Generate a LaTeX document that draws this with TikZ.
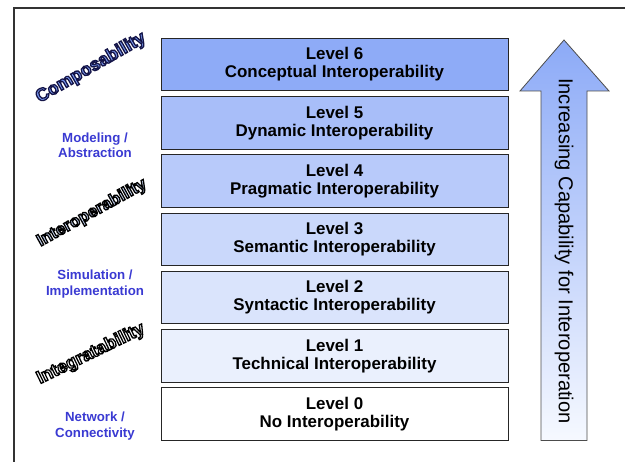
\documentclass[tikz,border=0pt]{standalone}
\usepackage{fontspec}
\setmainfont{Liberation Sans}

\definecolor{levelsix}{RGB}{142,171,247}
\definecolor{levelfive}{RGB}{168,190,249}
\definecolor{levelfour}{RGB}{184,202,250}
\definecolor{levelthree}{RGB}{202,216,251}
\definecolor{leveltwo}{RGB}{218,228,252}
\definecolor{levelone}{RGB}{234,240,253}
\definecolor{arrowtop}{RGB}{140,170,247}
\definecolor{arrowbottom}{RGB}{246,249,255}
\definecolor{bluelabel}{RGB}{58,58,210}
\definecolor{compfill}{RGB}{120,152,240}
\definecolor{interfill}{RGB}{204,218,250}

% filled text with a stroked outline (stroke colour as r g b)
\newcommand{\outlined}[3]{{\color{#1}\special{pdf:literal direct q #2 RG 2 Tr 1.3 w}#3\special{pdf:literal direct Q}}}

\begin{document}
\begin{tikzpicture}[x=1bp,y=-1bp]

        \useasboundingbox (0,0) rectangle (625,462);

        % frame
        \draw[line width=1.5bp, black!80] (14,462) -- (14,8) -- (625,8);

        \begin{scope}[every node/.style={draw=black!85, line width=0.9bp, minimum width=347bp,
            minimum height=52.5bp, inner sep=0pt, align=center,
            font=\bfseries\fontsize{17}{18.3}\selectfont}]
          \node[fill=levelsix]   (6) at (334.5,64.5)  {Level 6\\Conceptual Interoperability};
          \node[fill=levelfive]  (5) at (334.5,122.75) {Level 5\\Dynamic Interoperability};
          \node[fill=levelfour]  (4) at (334.5,181)   {Level 4\\Pragmatic Interoperability};
          \node[fill=levelthree] (3) at (334.5,239.25) {Level 3\\Semantic Interoperability};
          \node[fill=leveltwo]   (2) at (334.5,297.5) {Level 2\\Syntactic Interoperability};
          \node[fill=levelone]   (1) at (334.5,355.75) {Level 1\\Technical Interoperability};
          \node[fill=white]      (0) at (334.5,414)   {Level 0\\No Interoperability};
        \end{scope}

        % capability arrow
        \shade[top color=arrowtop, bottom color=arrowbottom, draw=black!70, line width=0.8bp]
          (564,40) -- (609,91) -- (587,91) -- (587,440.5) -- (541,440.5) -- (541,91) -- (520,91) -- cycle;
        \node[rotate=-90, font=\fontsize{20.2}{24}\selectfont] (capability) at (564,251)
          {Increasing Capability for Interoperation};

        \begin{scope}[every node/.style={text=bluelabel, align=center,
            font=\bfseries\fontsize{13.3}{15.5}\selectfont}]
          \node (model)   at (95,145) {Modeling /\\Abstraction};
          \node (simul)   at (95,284) {Simulation /\\Implementation};
          \node (network) at (95,426) {Network /\\Connectivity};
        \end{scope}

        \begin{scope}[every node/.style={font=\bfseries\fontsize{18}{20}\selectfont}]
          \node[rotate=30] (compose) at (91,68)  {\outlined{compfill}{0.08 0.08 0.28}{Composability}};
          \node[rotate=29, font=\bfseries\fontsize{17}{20}\selectfont] (interop) at (92,213)
            {\outlined{interfill}{0 0 0}{Interoperability}};
          \node[rotate=26] (integr)  at (91,354) {\outlined{white}{0 0 0}{Integratability}};
        \end{scope}

      \end{tikzpicture}
\end{document}
